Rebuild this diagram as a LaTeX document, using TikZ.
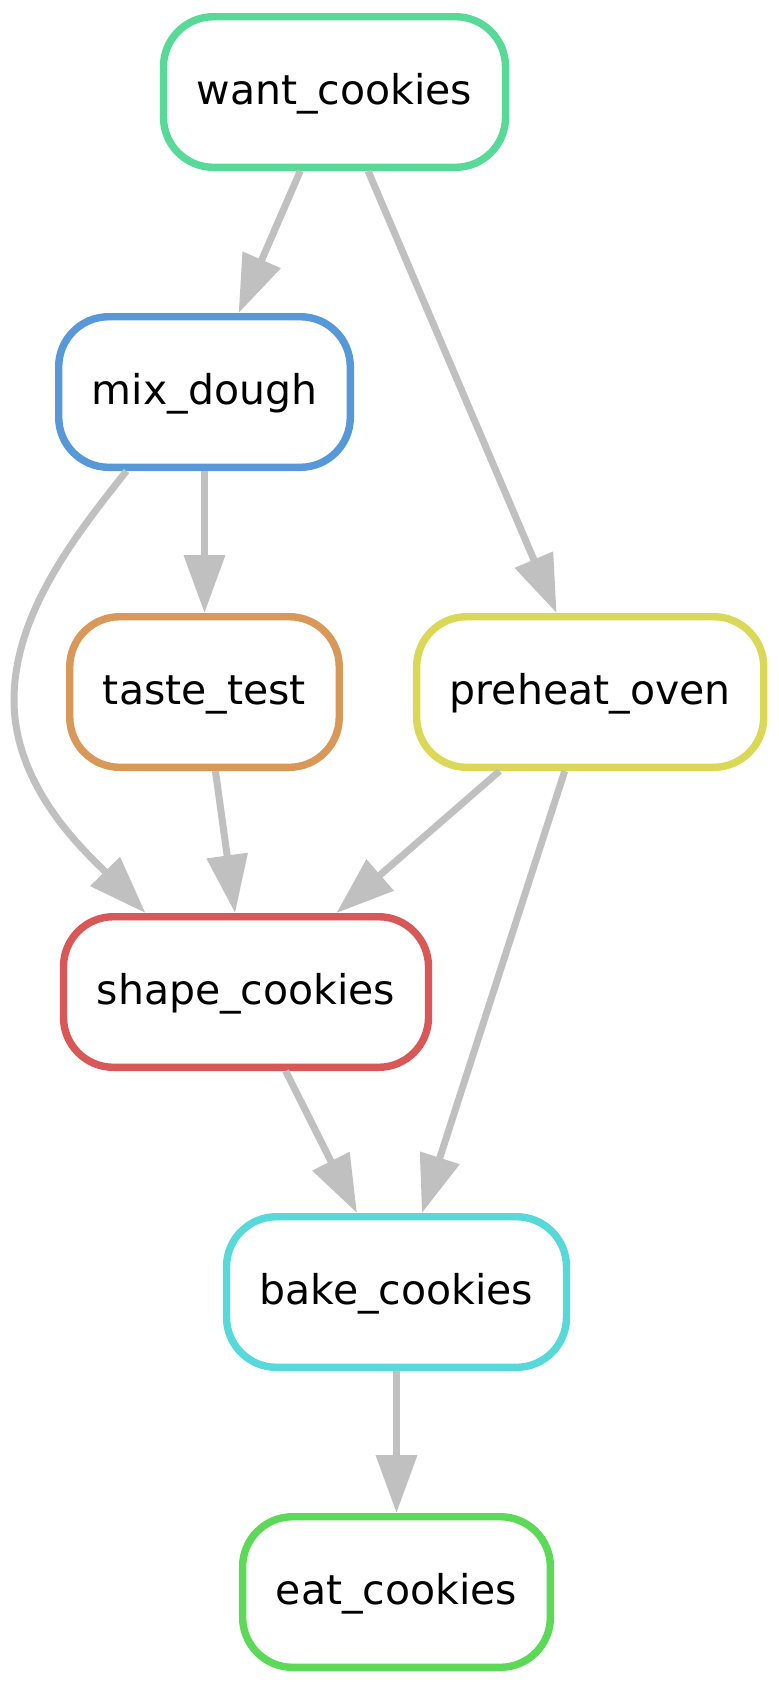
\documentclass[tikz,border=0pt]{standalone}
\usepackage{fontspec}
\setmainfont{DejaVu Sans}
\usepackage{tikz}
\usetikzlibrary{arrows.meta,positioning}
\usepackage{xcolor}
\definecolor{ckred}{RGB}{217,87,87}
\definecolor{ckorange}{RGB}{217,152,87}
\definecolor{ckyellow}{RGB}{217,217,87}
\definecolor{ckgreen}{RGB}{92,217,87}
\definecolor{ckmint}{RGB}{87,217,152}
\definecolor{ckcyan}{RGB}{87,217,217}
\definecolor{ckblue}{RGB}{87,152,217}
\definecolor{ckgrey}{RGB}{192,192,192}
\tikzstyle{arrow} = [line width=3.5pt,-{Triangle[length=29pt,width=20pt]},color=ckgrey]
\tikzstyle{rulebox} = [rectangle, rounded corners=25pt, minimum height=75.3pt, inner xsep=16.6pt, text height=15.4pt, text depth=2.5pt, line width=3.7pt, fill=white, font=\fontsize{20.5}{24}\selectfont]

\begin{document}
\begin{tikzpicture}[x=0.5pt, y=-0.5pt, node distance=71pt]
    \useasboundingbox (0,0) rectangle (778,1683);

    \node[rulebox, draw=ckmint] (want) at (334.5,92) {want\_cookies};
    \node[rulebox, draw=ckblue, below=of want, xshift=-65pt] (mix) {mix\_dough};
    \node[rulebox, draw=ckorange, below=of mix] (taste) {taste\_test};
    \node[rulebox, draw=ckyellow, right=35pt of taste] (preheat) {preheat\_oven};
    \node[rulebox, draw=ckred, below=of taste, xshift=20.75pt] (shape) {shape\_cookies};
    \node[rulebox, draw=ckcyan, below=of shape, xshift=75.25pt] (bake) {bake\_cookies};
    \node[rulebox, draw=ckgreen, below=of bake] (eat) {eat\_cookies};

    \draw[arrow] (want) -- (mix);
    \draw[arrow] (want) -- (preheat);
    \draw[arrow] (mix) -- (taste);
    % mix_dough goes round taste_test on the left
    \draw[arrow] ([xshift=-39pt]mix.south) .. controls (76.5,534) and (14,613) .. (14,700)
        .. controls (14,790) and (90,856) .. ([xshift=-50.25pt]shape.north);
    \draw[arrow] (taste) -- (shape);
    \draw[arrow] (preheat) -- (shape);
    \draw[arrow] (preheat) -- (bake);
    \draw[arrow] (shape) -- (bake);
    \draw[arrow] (bake) -- (eat);
\end{tikzpicture}
\end{document}
